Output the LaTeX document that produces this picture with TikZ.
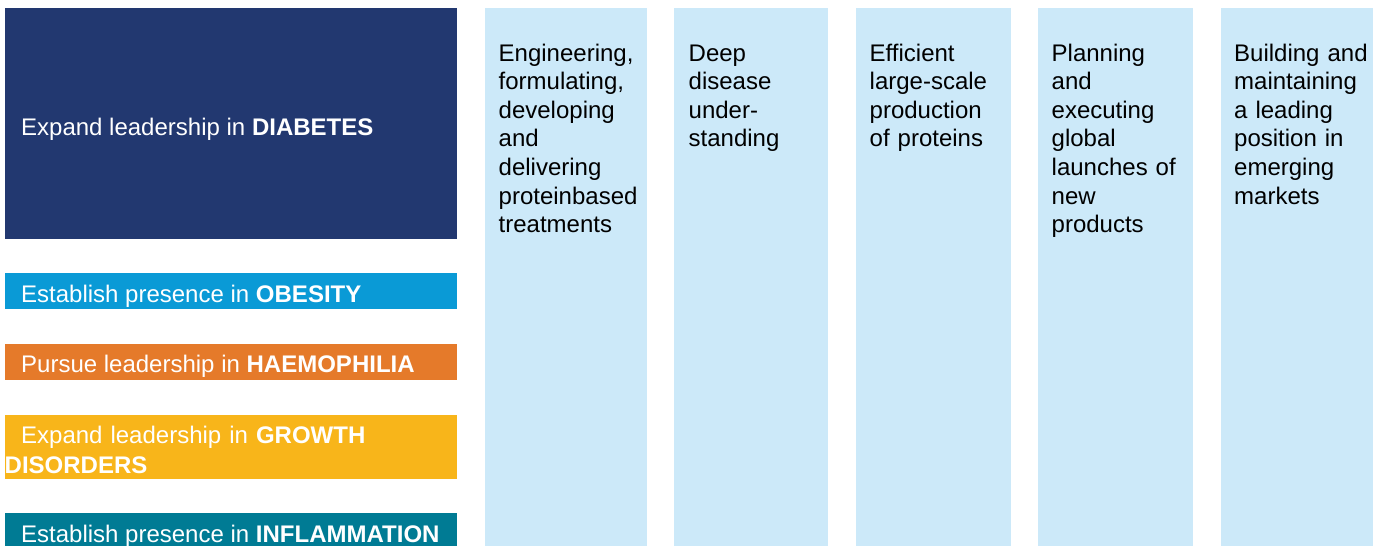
\documentclass[tikz,border=0pt]{standalone}
\usepackage{fontspec}
\setmainfont{Liberation Sans}
\usetikzlibrary{positioning}
\definecolor{diabnavy}{RGB}{34,56,112}
\definecolor{obesblue}{RGB}{10,154,214}
\definecolor{haemorange}{RGB}{229,122,42}
\definecolor{growyellow}{RGB}{248,181,26}
\definecolor{inflteal}{RGB}{0,123,148}
\definecolor{pillarblue}{RGB}{204,233,249}
\tikzset{
 area/.style={anchor=north west, inner sep=0pt, minimum width=452pt},
 areatext/.style={anchor=base west, inner sep=0pt, text=white, align=left, font=\fontsize{24}{30}\selectfont},
 pillar/.style={anchor=north west, inner sep=0pt, fill=pillarblue, minimum height=538pt},
 pillartext/.style={anchor=base west, inner sep=0pt, align=left, font=\fontsize{24}{28.6}\selectfont},
}
\begin{document}
\begin{tikzpicture}[x=1pt,y=-1pt]
 \useasboundingbox (0,0) rectangle (1377,546);
 \clip (0,0) rectangle (1377,546);
 % therapy areas
 \node[area, fill=diabnavy, minimum height=231pt] (diab) at (5,8) {};
 \node[area, fill=obesblue, minimum height=36pt] (obes) at (5,273) {};
 \node[area, fill=haemorange, minimum height=36pt] (haem) at (5,344) {};
 \node[area, fill=growyellow, minimum height=64pt] (grow) at (5,415) {};
 \node[area, fill=inflteal, minimum height=40pt] (infl) at (5,513) {};
 \node[areatext] (diabtxt) at (21,135) {Expand leadership in \textbf{DIABETES}};
 \node[areatext] (obestxt) at (21,302.5) {Establish presence in \textbf{OBESITY}};
 \node[areatext] (haemtxt) at (21,372.5) {Pursue leadership in \textbf{HAEMOPHILIA}};
 \node[areatext, text width=440pt] (growtxt) at (4.5,443) {\hspace*{16.5pt}Expand leadership in \textbf{GROWTH}\\\textbf{DISORDERS}};
 \node[areatext] (infltxt) at (21,542.5) {Establish presence in \textbf{INFLAMMATION}};
%
 % capabilities
 \node[pillar, minimum width=162pt] (engi) at (485,8) {};
 \node[pillar, minimum width=154pt] (deep) at (674,8) {};
 \node[pillar, minimum width=155pt] (prod) at (856,8) {};
 \node[pillar, minimum width=155pt] (plan) at (1038,8) {};
 \node[pillar, minimum width=152pt] (mark) at (1221,8) {};
 \node[pillartext, text width=148pt] (engitxt) at (498.5,61) {Engineering,\\formulating,\\developing\\and\\delivering\\proteinbased\\treatments};
 \node[pillartext, text width=140pt] (deeptxt) at (688.5,61) {Deep\\disease\\under-\\standing};
 \node[pillartext, text width=140pt] (prodtxt) at (869.5,61) {Efficient\\large-scale\\production\\of proteins};
 \node[pillartext, text width=140pt] (plantxt) at (1051.5,61) {Planning\\and\\executing\\global\\launches of\\new\\products};
 \node[pillartext, text width=140pt] (marktxt) at (1234,61) {Building and\\maintaining\\a leading\\position in\\emerging\\markets};
\end{tikzpicture}
\end{document}
